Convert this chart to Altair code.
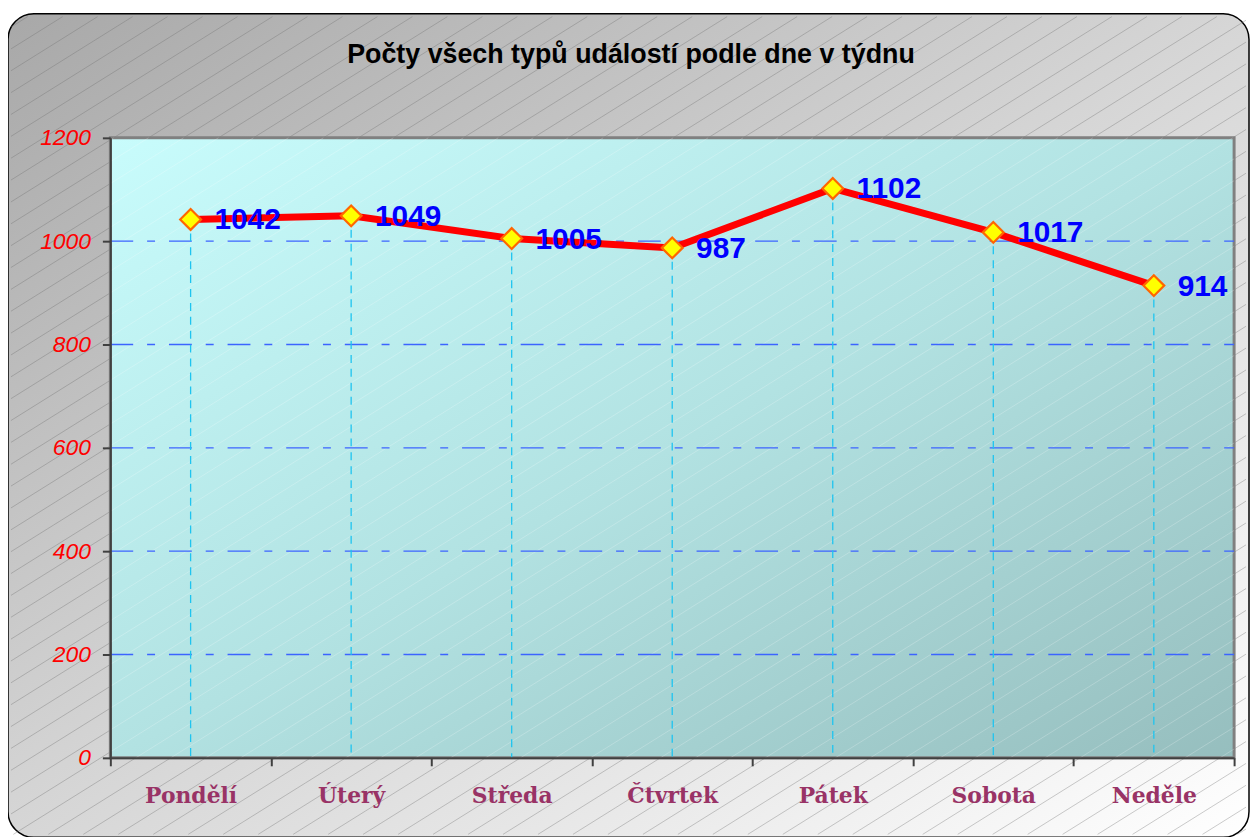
import altair as alt
import pandas as pd

# ---- data ----
days = ["Pondělí", "Úterý", "Středa", "Čtvrtek", "Pátek", "Sobota", "Neděle"]
counts = [1042, 1049, 1005, 987, 1102, 1017, 914]
y_ticks = [0, 200, 400, 600, 800, 1000, 1200]
grid_values = [200, 400, 600, 800, 1000]
title_text = "Počty všech typů událostí podle dne v týdnu"

W, H = 1131, 624
PAD = {"left": 103, "top": 128, "right": 16, "bottom": 78}

df = pd.DataFrame({"day": days, "count": counts})
grid_df = pd.DataFrame({"count": grid_values})
one = pd.DataFrame({"a": [0]})


def hatch(x0, x1, y0, y1, spacing=22.0, slope=0.625):
    rows = []
    cmin = y0 + slope * x0 - spacing
    cmax = y1 + slope * x1 + spacing
    k = int((cmin + 2000) // spacing)
    c = k * spacing - 2000
    while c <= cmax:
        xa = max(x0, (c - y1) / slope)
        xb = min(x1, (c - y0) / slope)
        if xa < xb:
            rows.append({"hx1": xa, "hy1": c - slope * xa, "hx2": xb, "hy2": c - slope * xb})
        c += spacing
    return pd.DataFrame(rows)


OX0, OX1, OY0, OY1 = -PAD["left"], W + 15, -125, H + 80
outer_hatch = hatch(OX0 + 3, OX1 - 3, OY0 + 3, OY1 - 3)
inner_hatch = hatch(0, W, 0, H)

xscale = alt.Scale(type="band", paddingInner=0, paddingOuter=0)
yscale = alt.Scale(domain=[0, 1200], nice=False, zero=True)
px_x = alt.Scale(type="linear", domain=[0, W], range=[0, W], nice=False, zero=False)
px_y = alt.Scale(type="linear", domain=[0, H], range=[0, H], nice=False, zero=False)

x_axis = alt.Axis(
    orient="bottom", labelAngle=0, labelAlign="center", labelBaseline="top",
    tickBand="extent", tickSize=8, tickColor="#404040", tickWidth=2,
    domainColor="#404040", domainWidth=2, labelFont="DejaVu Serif",
    labelFontWeight="bold", labelColor="#993366", labelFontSize=22,
    labelPadding=20, zindex=1, grid=False, title=None,
)
y_axis = alt.Axis(
    orient="left", labelAlign="right", labelBaseline="middle", format="d",
    values=y_ticks, grid=False, tickSize=8, tickColor="#404040", tickWidth=2,
    domainColor="#404040", domainWidth=2, labelFont="Liberation Sans",
    labelFontStyle="italic", labelColor="#ff0000", labelFontSize=23,
    labelPadding=12, zindex=1, title=None,
)

X = alt.X("day:N", sort=days, scale=xscale, bandPosition=0.5, axis=x_axis, title=None)
Y = alt.Y("count:Q", scale=yscale, axis=y_axis, title=None)

outer_box = alt.Chart(one).mark_rect(
    cornerRadius=26,
    stroke="#000000",
    strokeWidth=1.5,
    fill=alt.Gradient(
        gradient="linear", x1=0, y1=0, x2=1, y2=1,
        stops=[alt.GradientStop(color="#a8a8a8", offset=0),
               alt.GradientStop(color="#d6d6d6", offset=0.5),
               alt.GradientStop(color="#ffffff", offset=1)],
    ),
).encode(x=alt.value(OX0), x2=alt.value(OX1), y=alt.value(OY0), y2=alt.value(OY1))


def hatch_layer(d, color, opacity, width):
    return alt.Chart(d).mark_rule(color=color, opacity=opacity, strokeWidth=width).encode(
        x=alt.X("hx1:Q", scale=px_x, axis=None),
        y=alt.Y("hy1:Q", scale=px_y, axis=None),
        x2="hx2:Q",
        y2="hy2:Q",
    )


outer_lines = hatch_layer(outer_hatch, "#6e6e6e", 0.45, 0.8)

plot_bg = alt.Chart(one).mark_rect(
    stroke="#808080",
    strokeWidth=3,
    fill=alt.Gradient(
        gradient="linear", x1=0, y1=0, x2=1, y2=1,
        stops=[alt.GradientStop(color="#c8fcfc", offset=0),
               alt.GradientStop(color="#b2e2e2", offset=0.5),
               alt.GradientStop(color="#96bebe", offset=1)],
    ),
).encode(x=alt.value(0), x2=alt.value(W), y=alt.value(0), y2=alt.value(H))

inner_lines = hatch_layer(inner_hatch, "#ffffff", 0.28, 0.8)

title_mark = alt.Chart(one).mark_text(
    font="Liberation Sans", fontWeight="bold", fontSize=27, color="#000000",
    align="center", baseline="middle",
).encode(x=alt.value(524), y=alt.value(-83), text=alt.value(title_text))

decor = alt.layer(outer_box, outer_lines, plot_bg, inner_lines, title_mark)

grid = alt.Chart(grid_df).mark_rule(
    color="#3c64ff", strokeWidth=1.3, strokeDash=[23, 14, 8, 14]
).encode(y=Y, x=alt.value(0), x2=alt.value(W))

drops = alt.Chart(df).mark_rule(
    color="#1ec4f0", strokeWidth=1.3, strokeDash=[8, 6]
).encode(x=X, y=Y, y2=alt.datum(0))

line = alt.Chart(df).mark_line(color="#ff0000", strokeWidth=7).encode(x=X, y=Y)

points = alt.Chart(df).mark_point(
    shape="diamond", filled=True, fill="#ffff00", stroke="#ff6600",
    strokeWidth=2.2, size=440, opacity=1,
).encode(x=X, y=Y)

labels = alt.Chart(df).mark_text(
    align="left", baseline="middle", dx=24, dy=1, font="Liberation Sans",
    fontWeight="bold", fontSize=30, color="#0000ff",
).encode(x=X, y=Y, text="count:Q")

data_layer = alt.layer(grid, drops, line, points, labels)

chart = alt.layer(decor, data_layer).resolve_scale(
    x="independent", y="independent"
).properties(
    width=W,
    height=H,
    padding=PAD,
    autosize=alt.AutoSizeParams(type="none"),
    background="#ffffff",
).configure_view(stroke=None)

chart.save("out.html", embed_options={"renderer": "svg", "actions": False})
